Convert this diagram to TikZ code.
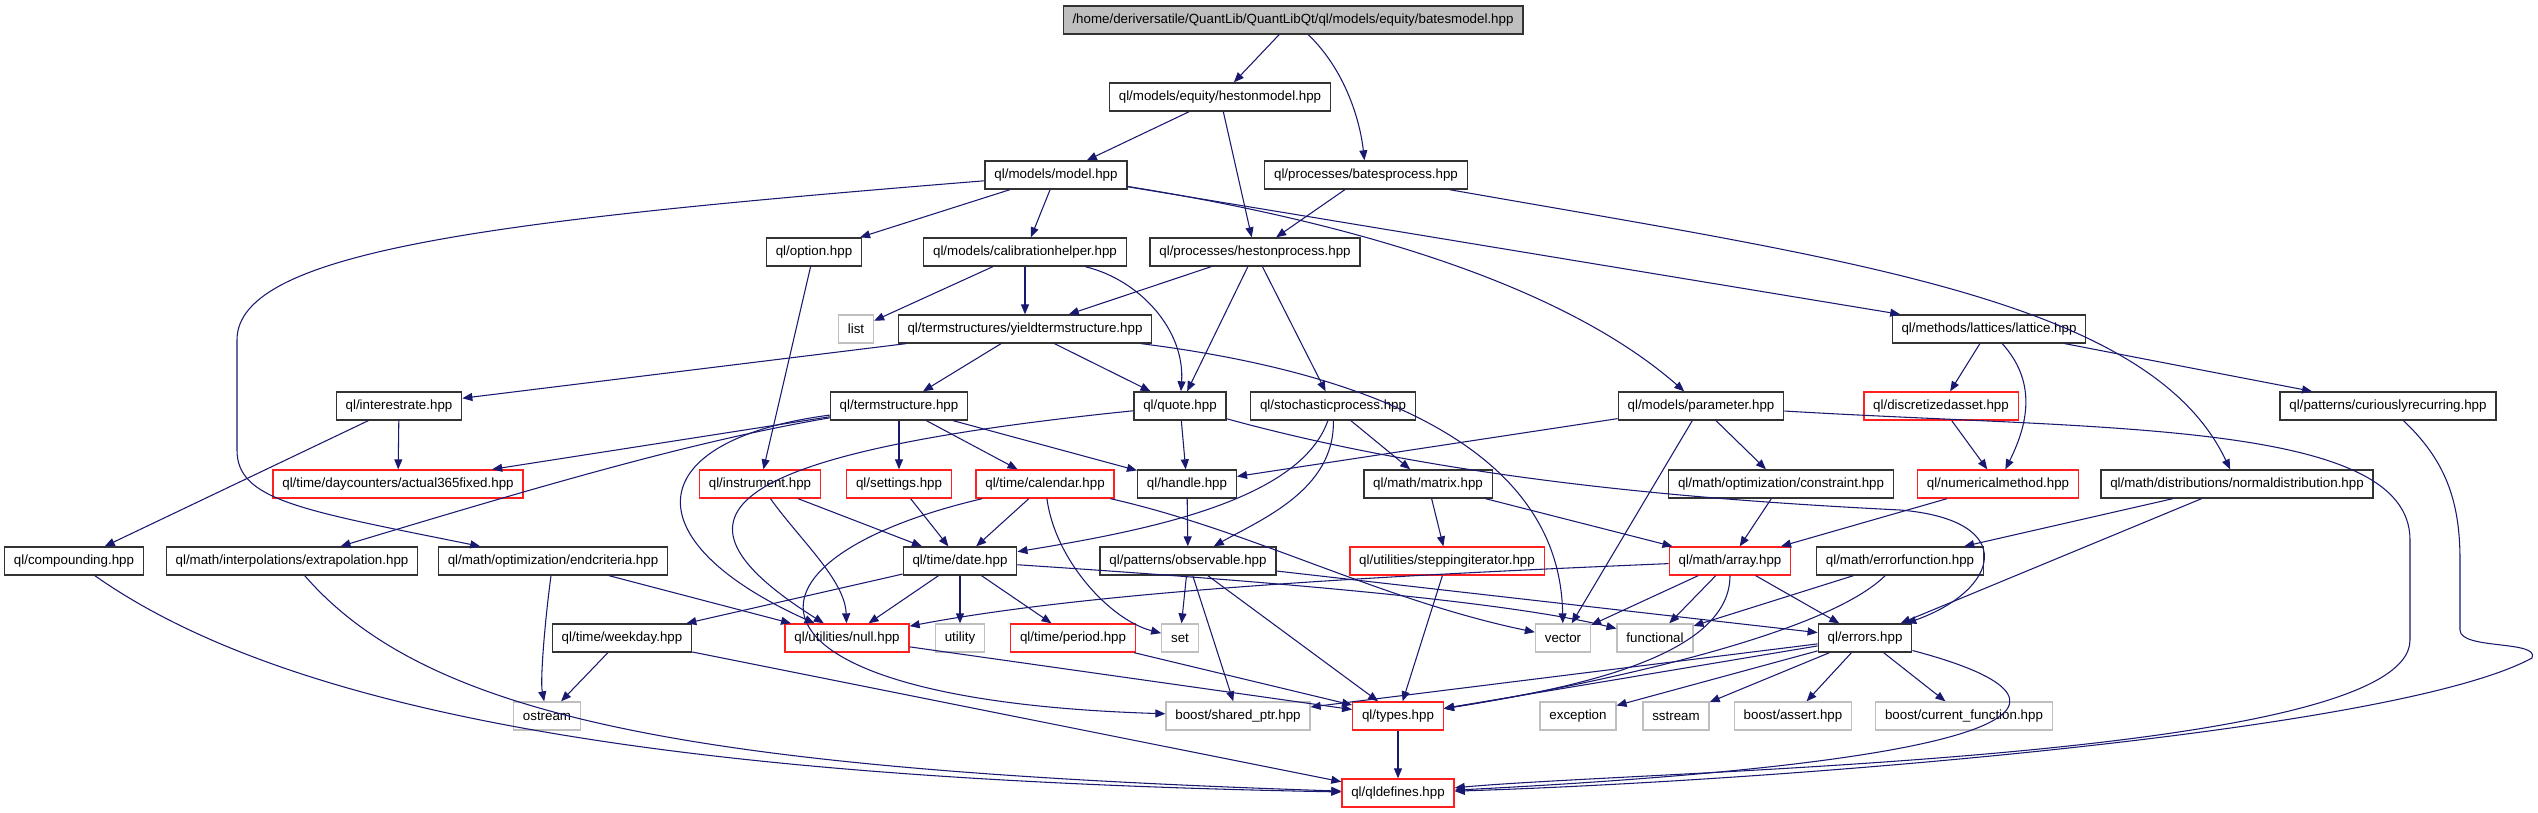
\documentclass[tikz,border=0pt]{standalone}
\usepackage{fontspec}
\setmainfont{Liberation Sans}
\usepackage{tikz}
\usetikzlibrary{arrows.meta}
\definecolor{edgeblue}{HTML}{191970}
\definecolor{boxred}{HTML}{FF2020}
\definecolor{boxgray}{HTML}{BFBFBF}
\definecolor{boxblack}{HTML}{333333}

\begin{document}
\begin{tikzpicture}[
  x=0.75pt, y=-0.75pt,
  filebox/.style={draw=boxblack, line width=1pt, inner xsep=7pt, inner ysep=0pt,
               minimum height=21pt, font=\fontsize{10pt}{12pt}\selectfont},
  redbox/.style={filebox, draw=boxred},
  sysbox/.style={filebox, draw=boxgray},
  rootbox/.style={filebox, fill=boxgray},
  arr/.style={-{Triangle[length=7.5pt,width=6pt]}, draw=edgeblue, line width=0.8pt}
]
  \useasboundingbox (0,0) rectangle (2538,813);

  % row 0 - 2
  \node[rootbox] (root) at (1293,20) {/home/deriversatile/QuantLib/QuantLibQt/ql/models/equity/batesmodel.hpp};
  \node[filebox] (hestonmodel) at (1220,97) {ql/models/equity/hestonmodel.hpp};
  \node[filebox] (model) at (1056,175) {ql/models/model.hpp};
  \node[filebox] (batesproc) at (1366,175) {ql/processes/batesprocess.hpp};

  % row 3 - 4
  \node[filebox] (option) at (814,252) {ql/option.hpp};
  \node[filebox] (calibhelper) at (1025,252) {ql/models/calibrationhelper.hpp};
  \node[filebox] (hestonproc) at (1255,252) {ql/processes/hestonprocess.hpp};
  \node[sysbox] (list) at (856,329) {list};
  \node[filebox] (yieldts) at (1025,329) {ql/termstructures/yieldtermstructure.hpp};
  \node[filebox] (lattice) at (1989,329) {ql/methods/lattices/lattice.hpp};

  % row 5
  \node[filebox] (interestrate) at (399,406) {ql/interestrate.hpp};
  \node[filebox] (termstruct) at (899,406) {ql/termstructure.hpp};
  \node[filebox] (quote) at (1180,406) {ql/quote.hpp};
  \node[filebox] (stochproc) at (1333,406) {ql/stochasticprocess.hpp};
  \node[filebox] (parameter) at (1701,406) {ql/models/parameter.hpp};
  \node[redbox] (discrasset) at (1941,406) {ql/discretizedasset.hpp};
  \node[filebox] (curious) at (2388,406) {ql/patterns/curiouslyrecurring.hpp};

  % row 6
  \node[redbox] (act365) at (398,484) {ql/time/daycounters/actual365fixed.hpp};
  \node[redbox] (instrument) at (760,484) {ql/instrument.hpp};
  \node[redbox] (settings) at (899,484) {ql/settings.hpp};
  \node[redbox] (calendar) at (1045,484) {ql/time/calendar.hpp};
  \node[filebox] (handle) at (1187,484) {ql/handle.hpp};
  \node[filebox] (matrix) at (1428,484) {ql/math/matrix.hpp};
  \node[filebox] (constraint) at (1781,484) {ql/math/optimization/constraint.hpp};
  \node[redbox] (nummethod) at (1998,484) {ql/numericalmethod.hpp};
  \node[filebox] (normaldist) at (2237,484) {ql/math/distributions/normaldistribution.hpp};

  % row 7
  \node[filebox] (compounding) at (74,561) {ql/compounding.hpp};
  \node[filebox] (extrapolation) at (292,561) {ql/math/interpolations/extrapolation.hpp};
  \node[filebox] (endcriteria) at (553,561) {ql/math/optimization/endcriteria.hpp};
  \node[filebox] (date) at (960,561) {ql/time/date.hpp};
  \node[filebox] (observable) at (1188,561) {ql/patterns/observable.hpp};
  \node[redbox] (stepiter) at (1447,561) {ql/utilities/steppingiterator.hpp};
  \node[redbox] (array) at (1730,561) {ql/math/array.hpp};
  \node[filebox] (errorfunc) at (1900,561) {ql/math/errorfunction.hpp};

  % row 8
  \node[filebox] (weekday) at (622,638) {ql/time/weekday.hpp};
  \node[redbox] (null) at (847,638) {ql/utilities/null.hpp};
  \node[sysbox] (utility) at (960,638) {utility};
  \node[redbox] (period) at (1073,638) {ql/time/period.hpp};
  \node[sysbox] (set) at (1180,638) {set};
  \node[sysbox] (vector) at (1563,638) {vector};
  \node[sysbox] (functional) at (1655,638) {functional};
  \node[filebox] (errors) at (1865,638) {ql/errors.hpp};

  % row 9 - 10
  \node[sysbox] (ostream) at (547,716) {ostream};
  \node[sysbox] (sharedptr) at (1238,716) {boost/shared\_ptr.hpp};
  \node[redbox] (types) at (1398,716) {ql/types.hpp};
  \node[sysbox] (exception) at (1578,716) {exception};
  \node[sysbox] (sstream) at (1676,716) {sstream};
  \node[sysbox] (assert) at (1793,716) {boost/assert.hpp};
  \node[sysbox] (curfunc) at (1964,716) {boost/current\_function.hpp};
  \node[redbox] (qldefines) at (1398,793) {ql/qldefines.hpp};

  % upper part
  \draw[arr] (root) -- (hestonmodel);
  \draw[arr] (root) .. controls (1345,70) and (1360,120) .. (batesproc);
  \draw[arr] (hestonmodel) -- (model);
  \draw[arr] (hestonmodel) -- (hestonproc);
  \draw[arr] (model) -- (option);
  \draw[arr] (model) -- (calibhelper);
  \draw[arr] (model) -- (lattice);
  \draw[arr] (model) .. controls (1400,230) and (1580,300) .. (parameter);
  \draw[arr] (model) .. controls (500,220) and (237,250) .. (237,340) -- (237,450)
    .. controls (237,500) and (300,510) .. (endcriteria);
  \draw[arr] (batesproc) -- (hestonproc);
  \draw[arr] (batesproc) .. controls (1850,260) and (2150,300) .. (normaldist);
  \draw[arr] (calibhelper) -- (list);
  \draw[arr] (calibhelper) -- (yieldts);
  \draw[arr] (calibhelper) .. controls (1140,280) and (1185,330) .. (quote);
  \draw[arr] (hestonproc) -- (yieldts);
  \draw[arr] (hestonproc) -- (quote);
  \draw[arr] (hestonproc) -- (stochproc);
  \draw[arr] (option) -- (instrument);
  \draw[arr] (yieldts) -- (interestrate);
  \draw[arr] (yieldts) -- (termstruct);
  \draw[arr] (yieldts) -- (quote);
  \draw[arr] (yieldts) .. controls (1350,370) and (1560,440) .. (vector);
  \draw[arr] (lattice) -- (discrasset);
  \draw[arr] (lattice) .. controls (2035,380) and (2030,420) .. (nummethod);
  \draw[arr] (lattice) -- (curious);

  % middle part
  \draw[arr] (interestrate) -- (act365);
  \draw[arr] (interestrate) -- (compounding);
  \draw[arr] (termstruct) -- (act365);
  \draw[arr] (termstruct) .. controls (700,440) and (560,480) .. (extrapolation);
  \draw[arr] (termstruct) .. controls (640,440) and (630,540) .. (null);
  \draw[arr] (termstruct) -- (settings);
  \draw[arr] (termstruct) -- (calendar);
  \draw[arr] (termstruct) -- (handle);
  \draw[arr] (quote) .. controls (700,455) and (660,520) .. (null);
  \draw[arr] (quote) -- (handle);
  \draw[arr] (quote) .. controls (1450,480) and (1700,500) .. (1900,510)
    .. controls (2020,520) and (2000,590) .. (errors);
  \draw[arr] (stochproc) .. controls (1300,500) and (1150,530) .. (date);
  \draw[arr] (stochproc) .. controls (1335,490) and (1260,520) .. (observable);
  \draw[arr] (stochproc) -- (matrix);
  \draw[arr] (parameter) -- (handle);
  \draw[arr] (parameter) -- (constraint);
  \draw[arr] (parameter) -- (vector);
  \draw[arr] (parameter) .. controls (2100,430) and (2410,420) .. (2410,540) -- (2410,640)
    .. controls (2410,760) and (1650,770) .. (qldefines);
  \draw[arr] (discrasset) -- (nummethod);
  \draw[arr] (curious) .. controls (2445,460) and (2460,500) .. (2460,560) -- (2460,630)
    .. controls (2460,650) and (2540,640) .. (2532,658)
    .. controls (2400,730) and (1800,780) .. (qldefines);
  \draw[arr] (instrument) .. controls (800,540) and (845,580) .. (null);
  \draw[arr] (instrument) -- (date);
  \draw[arr] (settings) -- (date);
  \draw[arr] (calendar) -- (date);
  \draw[arr] (calendar) .. controls (1055,560) and (1110,620) .. (set);
  \draw[arr] (calendar) .. controls (1250,530) and (1380,600) .. (vector);
  \draw[arr] (calendar) .. controls (720,560) and (720,700) .. (sharedptr);
  \draw[arr] (handle) -- (observable);
  \draw[arr] (matrix) -- (stepiter);
  \draw[arr] (matrix) -- (array);
  \draw[arr] (constraint) -- (array);
  \draw[arr] (nummethod) -- (array);
  \draw[arr] (normaldist) -- (errorfunc);
  \draw[arr] (normaldist) -- (errors);

  % lower part
  \draw[arr] (compounding) .. controls (300,720) and (700,780) .. (qldefines);
  \draw[arr] (extrapolation) .. controls (430,720) and (700,770) .. (qldefines);
  \draw[arr] (endcriteria) .. controls (545,620) and (540,680) .. (ostream);
  \draw[arr] (endcriteria) -- (null);
  \draw[arr] (date) -- (weekday);
  \draw[arr] (date) -- (null);
  \draw[arr] (date) -- (utility);
  \draw[arr] (date) -- (period);
  \draw[arr] (date) .. controls (1250,580) and (1500,600) .. (functional);
  \draw[arr] (observable) -- (set);
  \draw[arr] (observable) -- (sharedptr);
  \draw[arr] (observable) -- (types);
  \draw[arr] (observable) -- (errors);
  \draw[arr] (stepiter) -- (types);
  \draw[arr] (array) .. controls (1400,575) and (1100,590) .. (null);
  \draw[arr] (array) -- (vector);
  \draw[arr] (array) -- (functional);
  \draw[arr] (array) .. controls (1730,660) and (1560,690) .. (types);
  \draw[arr] (array) -- (errors);
  \draw[arr] (errorfunc) -- (functional);
  \draw[arr] (errorfunc) .. controls (1820,640) and (1560,690) .. (types);
  \draw[arr] (weekday) -- (ostream);
  \draw[arr] (weekday) -- (qldefines);
  \draw[arr] (null) -- (types);
  \draw[arr] (period) -- (types);
  \draw[arr] (errors) -- (sharedptr);
  \draw[arr] (errors) -- (types);
  \draw[arr] (errors) -- (exception);
  \draw[arr] (errors) -- (sstream);
  \draw[arr] (errors) -- (assert);
  \draw[arr] (errors) -- (curfunc);
  \draw[arr] (errors) .. controls (2100,700) and (2050,760) .. (qldefines);
  \draw[arr] (types) -- (qldefines);
\end{tikzpicture}
\end{document}
